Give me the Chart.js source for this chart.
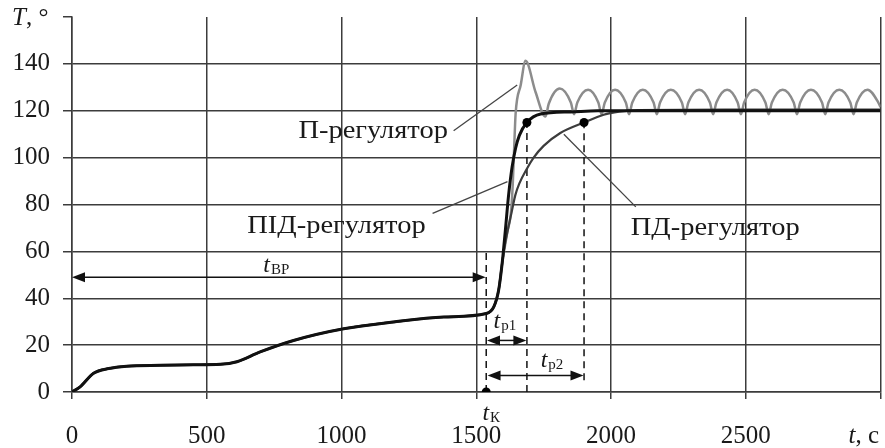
<!DOCTYPE html>
<html>
<head>
<meta charset="utf-8">
<script src="https://cdn.jsdelivr.net/npm/chart.js@4/dist/chart.umd.min.js"></script>
<style>
  html, body { margin: 0; padding: 0; background: #fff; }
  #box { width: 885px; height: 448px; }
</style>
</head>
<body>
<div id="box"><canvas id="chart"></canvas></div>
<script>
// common heating part (before the regulator is switched on)
var heatTime = [0, 30, 80, 136, 203, 327, 450, 550, 612, 698, 822, 1008, 1194, 1380, 1537, 1565, 1583, 1596];
var heatTemp = [0, 2.2, 8, 10, 11, 11.4, 11.6, 11.8, 12.9, 17.1, 22, 27, 29.9, 32, 33.5, 36.3, 43.4, 54.8];

// ПІД-регулятор
var pidTime = [1608, 1620, 1633, 1646, 1660, 1688, 1739, 1850, 1950, 2200, 2600, 3000];
var pidTemp = [69, 84, 96, 104, 109.5, 115, 118.6, 119.5, 120, 120, 120, 120];

// ПД-регулятор
var pdTime = [1605, 1615, 1630, 1645, 1660, 1689, 1713, 1750, 1812, 1900, 1973, 2030, 2100, 2500, 3000];
var pdTemp = [62, 68, 76, 84, 89, 95.5, 100, 105, 110.5, 115, 118.3, 119.6, 120.3, 120.5, 120.5];

// П-регулятор
var pTime = [1615, 1630, 1636, 1641, 1646, 1665, 1683, 1720, 1757,
  1769, 1810, 1851, 1863, 1875, 1915, 1953, 1965, 1977, 2015, 2055, 2067,
  2079, 2118, 2158, 2170, 2182, 2222, 2263, 2275, 2287, 2327, 2367, 2379,
  2391, 2431, 2470, 2482, 2494, 2533, 2573, 2585, 2597, 2637, 2678, 2690,
  2702, 2742, 2783, 2795, 2807, 2847, 2888, 2900, 2912, 2952, 2992, 3000];
var pTemp = [68, 78, 90, 105, 118.6, 131, 141.3, 128, 117.5,
  123, 129.5, 123.5, 118.5, 123.5, 129, 123.5, 118.5, 123.5, 129, 123.5, 118.5,
  123.5, 129, 123.5, 118.5, 123.5, 129, 123.5, 118.5, 123.5, 129, 123.5, 118.5,
  123.5, 129, 123.5, 118.5, 123.5, 129, 123.5, 118.5, 123.5, 129, 123.5, 118.5,
  123.5, 129, 123.5, 118.5, 123.5, 129, 123.5, 118.5, 123.5, 129, 123.5, 121.5];

// marked points: t_K and settling times
var markTime = [1537, 1688, 1900];
var markTemp = [0, 115, 115];

// dashed verticals
var dashTime = [1537, 1688, 1900];
var dashFrom = [0, 0, 5];
var dashTo = [60, 115, 115];

// double arrows t_ВР, t_р1, t_р2
var arrowFrom = [0, 1540, 1542];
var arrowTo = [1535, 1686, 1898];
var arrowTemp = [49, 22, 7];

// leader lines from labels to curves
var leaderT1 = [1416, 1338, 1825];
var leaderV1 = [111.5, 76.2, 110];
var leaderT2 = [1652, 1616, 2092];
var leaderV2 = [131, 89.8, 79];

var labelText = ['П-регулятор', 'ПІД-регулятор', 'ПД-регулятор'];
var labelTime = [840, 650, 2073];
var labelTemp = [111, 70.6, 69.8];

var subText = ['ВР', 'р1', 'р2', 'К'];
var subTime = [710, 1564, 1739, 1523];
var subTemp = [51, 27.2, 10.6, -11.9];

var xTicks = [0, 500, 1000, 1500, 2000, 2500, 3000];
var yTicks = [0, 20, 40, 60, 80, 100, 120, 140, 160];

var FONT = 'Liberation Serif';
var GRID = '#3c3c3c';

function pts(tx, ty) {
  var out = [];
  for (var i = 0; i < tx.length; i++) out.push({x: tx[i], y: ty[i]});
  return out;
}

var datasets = [];
datasets.push({
  data: pts(markTime, markTemp), showLine: false, pointRadius: 4.5,
  pointBackgroundColor: '#000', pointBorderWidth: 0
});
datasets.push({
  data: pts(heatTime.concat(pidTime), heatTemp.concat(pidTemp)),
  borderColor: '#111', borderWidth: 3, pointRadius: 0, cubicInterpolationMode: 'monotone'
});
datasets.push({
  data: pts(heatTime.concat(pdTime), heatTemp.concat(pdTemp)),
  borderColor: '#3c3c3c', borderWidth: 2.2, pointRadius: 0, cubicInterpolationMode: 'monotone'
});
datasets.push({
  data: pts(heatTime.concat(pTime), heatTemp.concat(pTemp)),
  borderColor: '#8c8c8c', borderWidth: 2.5, pointRadius: 0, cubicInterpolationMode: 'monotone'
});
for (var i = 0; i < dashTime.length; i++) {
  datasets.push({
    data: pts([dashTime[i], dashTime[i]], [dashFrom[i], dashTo[i]]),
    borderColor: '#111', borderWidth: 1.5, borderDash: [7, 5], pointRadius: 0
  });
}
for (var i = 0; i < leaderT1.length; i++) {
  datasets.push({
    data: pts([leaderT1[i], leaderT2[i]], [leaderV1[i], leaderV2[i]]),
    borderColor: '#444', borderWidth: 1.3, pointRadius: 0
  });
}

function arrowHead(ctx, x, y, dir) {
  ctx.beginPath();
  ctx.moveTo(x, y);
  ctx.lineTo(x - dir * 13, y - 5);
  ctx.lineTo(x - dir * 13, y + 5);
  ctx.closePath();
  ctx.fill();
}

function subLabel(ctx, x, y, sub) {
  ctx.font = 'italic 24px ' + FONT;
  ctx.fillText('t', x, y);
  var w = ctx.measureText('t').width;
  ctx.font = '15px ' + FONT;
  ctx.fillText(sub, x + w + 1, y + 2);
}

var annot = {
  id: 'annot',
  afterDatasetsDraw: function(chart) {
    var ctx = chart.ctx, xs = chart.scales.x, ys = chart.scales.y;
    ctx.save();
    ctx.strokeStyle = '#111';
    ctx.fillStyle = '#111';
    ctx.lineWidth = 1.5;
    for (var i = 0; i < arrowFrom.length; i++) {
      var x1 = xs.getPixelForValue(arrowFrom[i]);
      var x2 = xs.getPixelForValue(arrowTo[i]);
      var y = ys.getPixelForValue(arrowTemp[i]);
      ctx.beginPath();
      ctx.moveTo(x1 + 4, y);
      ctx.lineTo(x2 - 4, y);
      ctx.stroke();
      arrowHead(ctx, x1, y, -1);
      arrowHead(ctx, x2, y, 1);
    }
    ctx.restore();
  },
  afterDraw: function(chart) {
    var ctx = chart.ctx, xs = chart.scales.x, ys = chart.scales.y;
    ctx.save();
    ctx.fillStyle = '#1a1a1a';
    ctx.textBaseline = 'middle';
    ctx.textAlign = 'left';
    ctx.font = '25px ' + FONT;
    for (var i = 0; i < labelText.length; i++) {
      // the labels in the source are drawn a bit wider than normal
      ctx.save();
      ctx.translate(xs.getPixelForValue(labelTime[i]), ys.getPixelForValue(labelTemp[i]));
      ctx.scale(1.14, 1);
      ctx.fillText(labelText[i], 0, 0);
      ctx.restore();
    }
    ctx.textBaseline = 'alphabetic';
    for (var i = 0; i < subText.length; i++) {
      subLabel(ctx, xs.getPixelForValue(subTime[i]), ys.getPixelForValue(subTemp[i]), subText[i]);
    }
    // axis titles in place of the last tick labels
    var yTop = ys.getPixelForValue(160) + 8;
    ctx.font = 'italic 25px ' + FONT;
    ctx.fillText('T', 12, yTop);
    var w = ctx.measureText('T').width;
    ctx.font = '25px ' + FONT;
    ctx.fillText(', °', 12 + w, yTop);
    var xr = xs.getPixelForValue(3000) - 32;
    ctx.font = 'italic 25px ' + FONT;
    ctx.fillText('t', xr, 443);
    w = ctx.measureText('t').width;
    ctx.font = '25px ' + FONT;
    ctx.fillText(', с', xr + w, 443);
    ctx.restore();
  }
};

new Chart(document.getElementById('chart'), {
  type: 'line',
  data: { datasets: datasets },
  options: {
    responsive: true,
    maintainAspectRatio: false,
    animation: false,
    layout: { padding: { top: 17, right: 3, left: 0, bottom: 0 } },
    plugins: { legend: { display: false }, tooltip: { enabled: false } },
    scales: {
      x: {
        type: 'linear', min: 0, max: 3000,
        afterFit: function(s) { s.height = 56; s.paddingLeft = 0; s.paddingRight = 0; },
        afterBuildTicks: function(s) { s.ticks = xTicks.map(function(v) { return {value: v}; }); },
        grid: { color: GRID, lineWidth: 1.5, tickLength: 7, tickColor: GRID },
        border: { color: GRID, width: 1.5 },
        ticks: {
          color: '#1a1a1a', font: { family: FONT, size: 25 }, padding: 22, maxRotation: 0,
          callback: function(v) { return v === 3000 ? '' : v; }
        }
      },
      y: {
        min: 0, max: 160,
        afterFit: function(s) { s.width = 72; s.paddingTop = 0; s.paddingBottom = 0; },
        afterBuildTicks: function(s) { s.ticks = yTicks.map(function(v) { return {value: v}; }); },
        grid: {
          color: function(c) { return c.tick && c.tick.value === 160 ? 'rgba(0,0,0,0)' : GRID; },
          lineWidth: 1.5, tickLength: 9, tickColor: GRID
        },
        border: { color: GRID, width: 1.5 },
        ticks: {
          color: '#1a1a1a', font: { family: FONT, size: 25 }, padding: 13,
          callback: function(v) { return v === 160 ? '' : v; }
        }
      }
    }
  },
  plugins: [annot]
});
</script>
</body>
</html>
